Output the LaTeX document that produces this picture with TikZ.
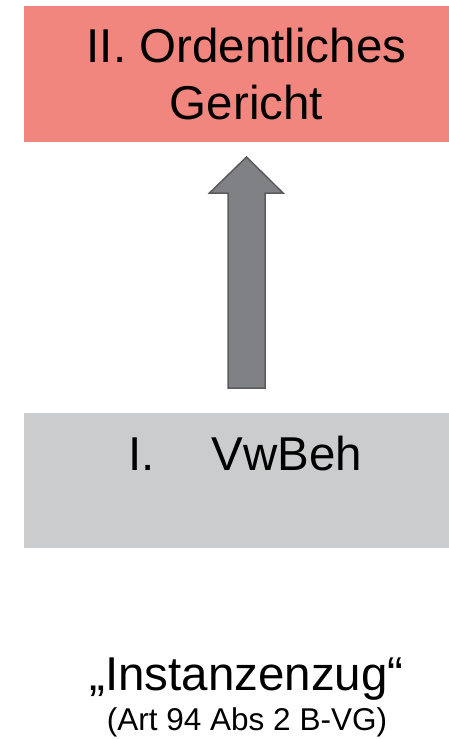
\documentclass[tikz,border=0pt]{standalone}
\usepackage{fontspec}
\setmainfont{Liberation Sans}
\definecolor{boxred}{HTML}{F1867F}
\definecolor{boxgray}{HTML}{CBCCCE}
\definecolor{arrfill}{HTML}{808184}
\definecolor{arredge}{HTML}{5A5B5D}
\begin{document}
\begin{tikzpicture}[x=1pt,y=-1pt,
  lbl/.style={inner sep=0pt,outer sep=0pt,font=\fontsize{47.5}{55}\selectfont},
  small/.style={inner sep=0pt,outer sep=0pt,font=\fontsize{31.5}{36}\selectfont}]
\useasboundingbox (0,0) rectangle (449,739);
% boxes
\fill[boxred] (24,6) rectangle (449,142);
\fill[boxgray] (24,413) rectangle (449,548);
% block arrow
\coordinate (tip) at (246.5,157);
\coordinate (base) at (246.5,388);
\draw[arredge,fill=arrfill,line width=1.5pt,line join=miter]
  (tip) -- ++(36.5,36) -- ++(-18,0) |- (base) -- ++(-18.5,0) |- ++(-18.5,-195) -- cycle;
% texts
\node[lbl,anchor=base] (t1) at (246.5,62) {II. Ordentliches};
\node[lbl,anchor=base] (t2) at (246.5,119) {Gericht};
\node[lbl,anchor=base west] (t3) at (128,470) {I.\hspace{57pt}VwBeh};
\node[lbl,anchor=base] (t4) at (246.5,690) {„Instanzenzug“};
\node[small,anchor=base] (t5) at (247,730) {(Art 94 Abs 2 B-VG)};
\end{tikzpicture}
\end{document}
